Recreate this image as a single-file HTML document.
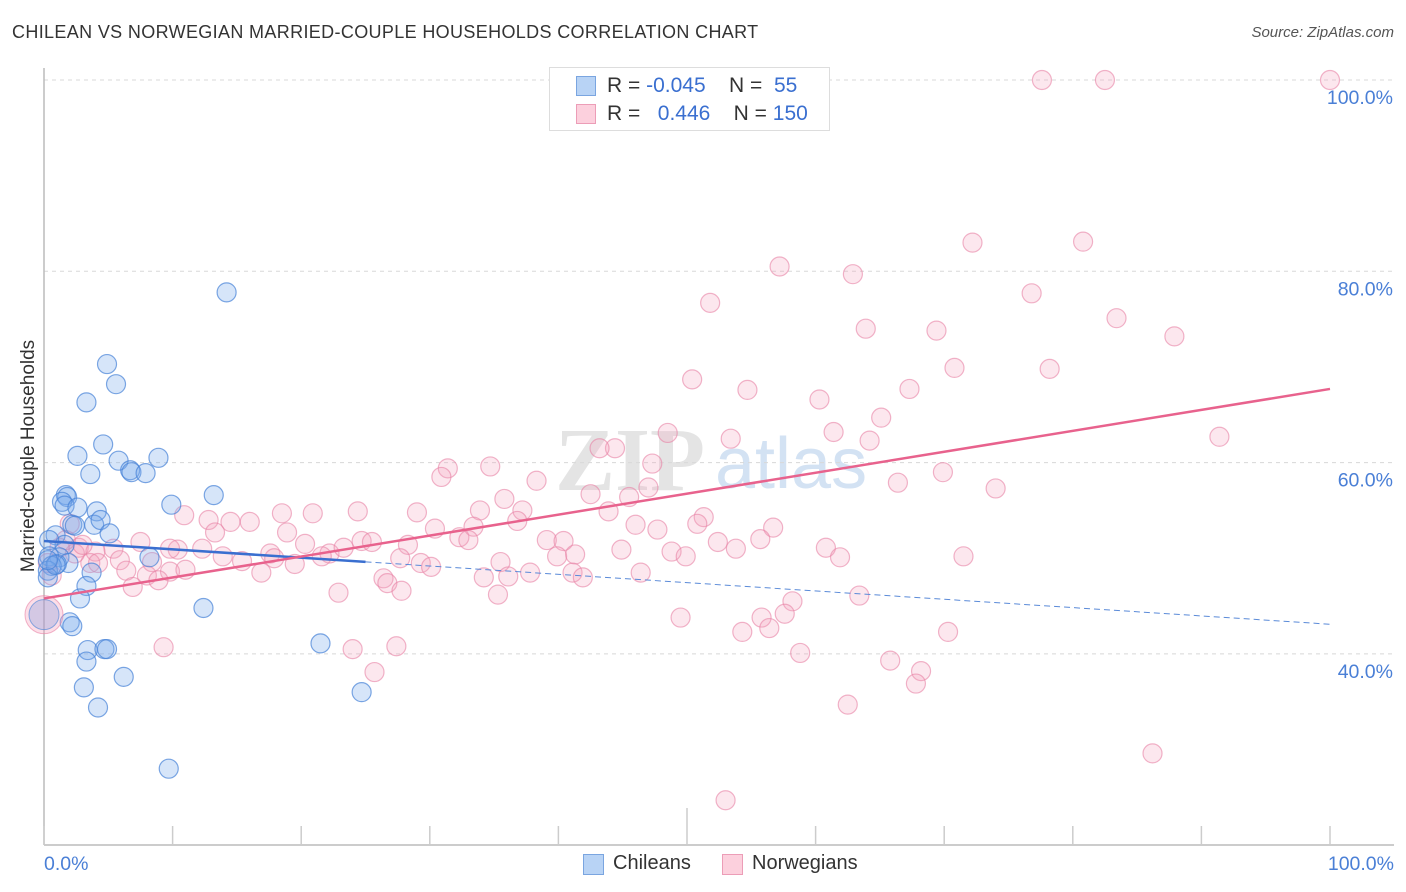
<!DOCTYPE html>
<html><head><meta charset="utf-8"><style>
body{margin:0;background:#fff;font-family:"Liberation Sans",sans-serif;}
#wrap{position:relative;width:1406px;height:892px;overflow:hidden;}
.t{position:absolute;white-space:nowrap;}
</style></head><body>
<div id="wrap">
<div class="t" style="left:12px;top:22px;font-size:18px;color:#333;letter-spacing:0.35px">CHILEAN VS NORWEGIAN MARRIED-COUPLE HOUSEHOLDS CORRELATION CHART</div>
<div class="t" style="right:12px;top:24px;font-size:15px;color:#555;font-style:italic">Source: ZipAtlas.com</div>
<svg id="chart" width="1406" height="892" style="position:absolute;left:0;top:0"></svg>
</div>
<script>
const blueX=[14.2,4.9,5.6,3.3,4.6,2.6,5.8,6.7,6.8,7.9,8.9,3.6,1.7,1.8,1.4,1.6,13.2,9.9,2.6,4.1,2.2,3.9,4.4,5.1,2.4,0.9,1.6,0.4,8.2,1.2,0.4,1.9,1.0,0.6,0.3,3.7,0.3,3.3,2.8,12.4,2.0,2.2,21.5,3.4,4.7,4.9,3.3,6.2,3.1,24.7,4.2,9.7,0.9,0.3];
const blueY=[77.8,70.3,68.2,66.3,61.9,60.7,60.2,59.2,59.0,58.9,60.5,58.8,56.6,56.4,55.9,55.5,56.6,55.6,55.3,54.9,53.5,53.5,54.0,52.6,53.4,52.4,51.4,51.9,50.1,50.1,50.2,49.5,49.4,49.2,48.7,48.5,48.0,47.1,45.8,44.8,43.3,42.9,41.1,40.4,40.5,40.5,39.2,37.6,36.5,36.0,34.4,28.0,49.3,49.8];
const pinkX=[77.6,82.5,100,72.2,80.8,57.2,62.9,76.8,51.8,83.4,63.9,69.4,87.9,70.8,78.2,50.4,54.7,67.3,60.3,65.1,48.5,53.4,61.4,64.2,91.4,44.4,43.2,47.3,34.7,31.4,30.9,69.9,38.3,66.4,74.0,47.0,45.5,42.5,35.8,33.9,43.9,37.2,10.9,18.5,20.9,24.4,29.0,12.8,14.5,16.0,51.3,36.8,46.0,47.7,56.7,30.4,33.4,50.8,18.9,13.3,7.5,2.0,24.7,25.5,32.3,33.0,55.7,39.1,40.4,52.4,28.3,20.3,2.7,10.4,12.3,13.9,17.6,22.2,21.6,23.3,5.4,4.0,5.9,3.6,8.4,15.4,17.9,19.5,27.7,39.9,41.3,44.9,48.8,49.9,53.8,60.8,61.9,71.5,29.3,30.1,35.5,37.8,41.1,41.9,46.4,6.4,8.0,9.8,11.0,8.9,6.9,16.9,26.4,26.7,27.8,34.2,36.1,22.9,35.3,63.4,58.2,57.6,55.8,56.4,54.3,49.5,70.3,9.3,24.0,27.4,58.8,65.8,68.2,67.8,62.5,86.2,53.0,25.7,0.6,0.3,1.2,2.4,1.7,4.2,3.0,9.8];
const pinkY=[100,100,100,83.0,83.1,80.5,79.7,77.7,76.7,75.1,74.0,73.8,73.2,69.9,69.8,68.7,67.6,67.7,66.6,64.7,63.1,62.5,63.2,62.3,62.7,61.5,61.5,59.9,59.6,59.4,58.5,59.0,58.1,57.9,57.3,57.4,56.4,56.7,56.2,55.0,54.9,55.0,54.5,54.7,54.7,54.9,54.8,54.0,53.8,53.8,54.3,53.9,53.5,53.0,53.2,53.1,53.3,53.6,52.7,52.7,51.7,53.6,51.8,51.7,52.2,51.9,52.0,51.9,51.8,51.7,51.4,51.5,51.1,50.9,51.0,50.2,50.5,50.5,50.2,51.1,51.0,50.7,49.8,49.5,49.6,49.7,50.0,49.4,50.0,50.2,50.4,50.9,50.7,50.2,51.0,51.1,50.1,50.2,49.5,49.1,49.6,48.5,48.5,48.0,48.5,48.7,48.2,48.6,48.8,47.7,47.0,48.5,47.9,47.4,46.6,48.0,48.1,46.4,46.2,46.1,45.5,44.2,43.8,42.7,42.3,43.8,42.3,40.7,40.5,40.8,40.1,39.3,38.2,36.9,34.7,29.6,24.7,38.1,48.2,49.5,51.1,50.5,51.9,49.5,51.4,51.0];
const bigPoint=[0,44.1];
const blueTrend=[51.8,43.1]; // y at x=0 and x=100
const pinkTrend=[45.8,67.7];
const yTicks=[40,60,80,100];
const xTickVals=[0,10,20,30,40,50,60,70,80,90,100];

const svg=document.getElementById('chart');
const NS='http://www.w3.org/2000/svg';
const X=v=>44+v*12.86;
const Y=v=>80+(100-v)*9.565;
function mk(tag,attrs){const e=document.createElementNS(NS,tag);for(const k in attrs)e.setAttribute(k,attrs[k]);svg.appendChild(e);return e;}
let wm=mk('text',{x:555,y:490,'font-size':90,'font-family':'Liberation Serif,serif',fill:'#e4e4e4','font-weight':'bold'});wm.textContent='ZIP';


let wm2=mk('text',{x:715,y:488,'font-size':72,'font-family':'Liberation Sans,sans-serif',fill:'#d3e2f3'});wm2.textContent='atlas';


yTicks.forEach(v=>{
 const g=mk('line',{x1:44,x2:1394,y1:Y(v),y2:Y(v),stroke:'#d8d8d8','stroke-dasharray':'4,4'});
 
 
 const t=mk('text',{x:1393,y:Y(v)+24,'text-anchor':'end','font-size':19.5,fill:'#4a7fd6','font-family':'Liberation Sans,sans-serif'});
 t.textContent=v.toFixed(1)+'%';
 
 
});
let ax=mk('line',{x1:44,x2:44,y1:68,y2:845,stroke:'#bbb','stroke-width':1.5});


let bx=mk('line',{x1:44,x2:1394,y1:845,y2:845,stroke:'#bbb','stroke-width':1.5});


xTickVals.forEach(v=>{
 const tk=mk('line',{x1:X(v),x2:X(v),y1:v===50?808:826,y2:845,stroke:'#ccc','stroke-width':1.5});
 
 
});
let xl0=mk('text',{x:44,y:870,'font-size':19.5,fill:'#4a7fd6','font-family':'Liberation Sans,sans-serif'});xl0.textContent='0.0%';


let xl1=mk('text',{x:1394,y:870,'text-anchor':'end','font-size':19.5,fill:'#4a7fd6','font-family':'Liberation Sans,sans-serif'});xl1.textContent='100.0%';


let yt=mk('text',{x:34,y:456,transform:'rotate(-90 34 456)','text-anchor':'middle','font-size':19,fill:'#333','font-family':'Liberation Sans,sans-serif'});yt.textContent='Married-couple Households';


pinkX.forEach((x,i)=>{
 const c=mk('circle',{cx:X(x),cy:Y(pinkY[i]),r:9.5,fill:'rgba(245,160,188,0.25)',stroke:'rgba(232,130,165,0.6)','stroke-width':1.2});
 
 
});
blueX.forEach((x,i)=>{
 const c=mk('circle',{cx:X(x),cy:Y(blueY[i]),r:9.5,fill:'rgba(120,170,235,0.3)',stroke:'rgba(70,130,215,0.7)','stroke-width':1.2});
 
 
});
let bp1=mk('circle',{cx:X(bigPoint[0]),cy:Y(bigPoint[1]),r:19,fill:'rgba(245,160,188,0.35)',stroke:'rgba(232,130,165,0.6)'});


let bp2=mk('circle',{cx:X(bigPoint[0]),cy:Y(bigPoint[1]),r:15,fill:'rgba(120,150,220,0.3)',stroke:'rgba(70,130,215,0.6)'});


const by=x=>blueTrend[0]+(blueTrend[1]-blueTrend[0])*x/100;
let bl=mk('line',{x1:X(0),y1:Y(by(0)),x2:X(25),y2:Y(by(25)),stroke:'#3a6fd0','stroke-width':2.5});


let bld=mk('line',{x1:X(25),y1:Y(by(25)),x2:X(100),y2:Y(by(100)),stroke:'#5a8ad8','stroke-width':1,'stroke-dasharray':'6,4'});


let pl=mk('line',{x1:X(0),y1:Y(pinkTrend[0]),x2:X(100),y2:Y(pinkTrend[1]),stroke:'#e8628d','stroke-width':2.5});


</script>
<div class="t" style="left:549px;top:67px;width:279px;height:62px;border:1px solid #ddd;background:#fff;font-size:21px">
 <div style="position:absolute;left:26px;top:8px;width:18px;height:18px;background:#b8d3f5;border:1px solid #7aa5e0"></div>
 <div class="t" style="left:57px;top:6px;color:#333">R = <span style="color:#3a6fd0">-0.045</span>&nbsp;&nbsp;&nbsp; N = &nbsp;<span style="color:#3a6fd0">55</span></div>
 <div style="position:absolute;left:26px;top:36px;width:18px;height:18px;background:#fcd0dd;border:1px solid #ec9db7"></div>
 <div class="t" style="left:57px;top:34px;color:#333">R = &nbsp;&nbsp;<span style="color:#3a6fd0">0.446</span>&nbsp;&nbsp;&nbsp; N = <span style="color:#3a6fd0">150</span></div>
</div>
<div style="position:absolute;left:583px;top:854px;width:19px;height:19px;background:#b8d3f5;border:1px solid #7aa5e0"></div>
<div class="t" style="left:613px;top:852px;font-size:20px;color:#333">Chileans</div>
<div style="position:absolute;left:722px;top:854px;width:19px;height:19px;background:#fcd0dd;border:1px solid #ec9db7"></div>
<div class="t" style="left:752px;top:852px;font-size:20px;color:#333">Norwegians</div>
</body></html>
